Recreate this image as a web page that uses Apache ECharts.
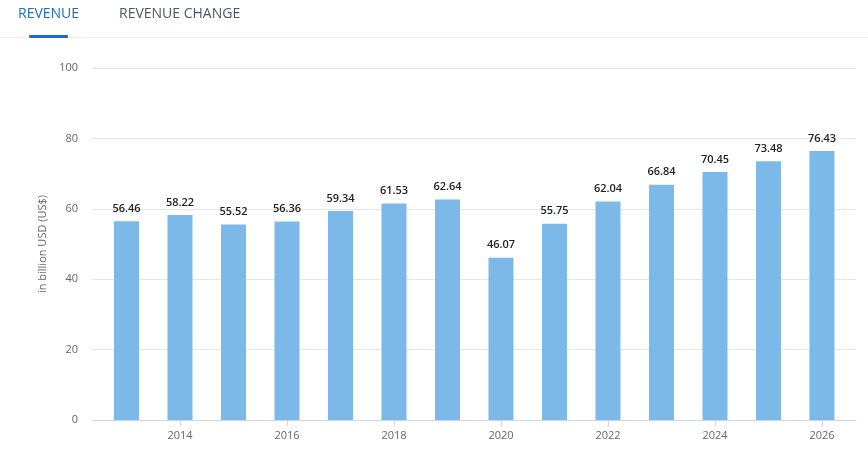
<!DOCTYPE html>
<html>
<head>
<meta charset="utf-8">
<script src="https://cdn.jsdelivr.net/npm/echarts@6/dist/echarts.min.js"></script>
<style>
html,body{margin:0;padding:0;background:#fff;}
#chart{width:868px;height:461px;}
</style>
</head>
<body>
<div id="chart"></div>
<script>
const years = [2013, 2014, 2015, 2016, 2017, 2018, 2019, 2020, 2021, 2022, 2023, 2024, 2025, 2026];
const revenue = [56.46, 58.22, 55.52, 56.36, 59.34, 61.53, 62.64, 46.07, 55.75, 62.04, 66.84, 70.45, 73.48, 76.43];
const xTickLabels = [2014, 2016, 2018, 2020, 2022, 2024, 2026];
const yAxisName = 'in billion USD (US$)';
const tabs = ['REVENUE', 'REVENUE CHANGE'];

const font = '"Open Sans", "Noto Sans", sans-serif';
const chart = echarts.init(document.getElementById('chart'));
chart.setOption({
  animation: false,
  textStyle: { fontFamily: font },
  graphic: [
    { type: 'text', left: 18, top: 7, style: { text: tabs[0], fill: '#1a6dbf', font: '14px ' + font } },
    { type: 'text', left: 119, top: 7, style: { text: tabs[1], fill: '#4b5866', font: '14px ' + font } },
    { type: 'rect', left: 0, top: 37, shape: { width: 868, height: 1 }, style: { fill: '#eeeeee' } },
    { type: 'rect', left: 29, top: 35, shape: { width: 39, height: 3, r: 1 }, style: { fill: '#1a6dbf' } }
  ],
  grid: { left: 92, right: 12, top: 68, bottom: 41 },
  xAxis: {
    type: 'value',
    min: 2012.355,
    max: 2026.636,
    splitLine: { show: false },
    axisLine: { show: true, lineStyle: { color: '#ccd6eb' } },
    axisTick: { show: true, customValues: xTickLabels, length: 6, lineStyle: { color: '#ccd6eb' } },
    axisLabel: { customValues: xTickLabels, color: '#666666', fontSize: 11, margin: 10, fontFamily: font, formatter: (v) => String(Math.round(v)) }
  },
  yAxis: {
    type: 'value',
    min: 0, max: 100, interval: 20,
    name: yAxisName,
    nameLocation: 'middle',
    nameGap: 44,
    nameTextStyle: { color: '#666666', fontSize: 11, fontFamily: font },
    axisLine: { show: false },
    axisTick: { show: false },
    axisLabel: { color: '#666666', fontSize: 11, margin: 14, fontFamily: font },
    splitLine: { lineStyle: { color: '#e6e6e6' } }
  },
  series: [{
    type: 'bar',
    data: years.map((y, i) => [y, revenue[i]]),
    barWidth: 25,
    itemStyle: { color: '#7cb9e8' },
    label: {
      show: true, position: 'top', distance: 7,
      color: '#222222', fontSize: 11, fontWeight: 600, fontFamily: font,
      formatter: (p) => p.value[1].toFixed(2)
    }
  }]
});
</script>
</body>
</html>
